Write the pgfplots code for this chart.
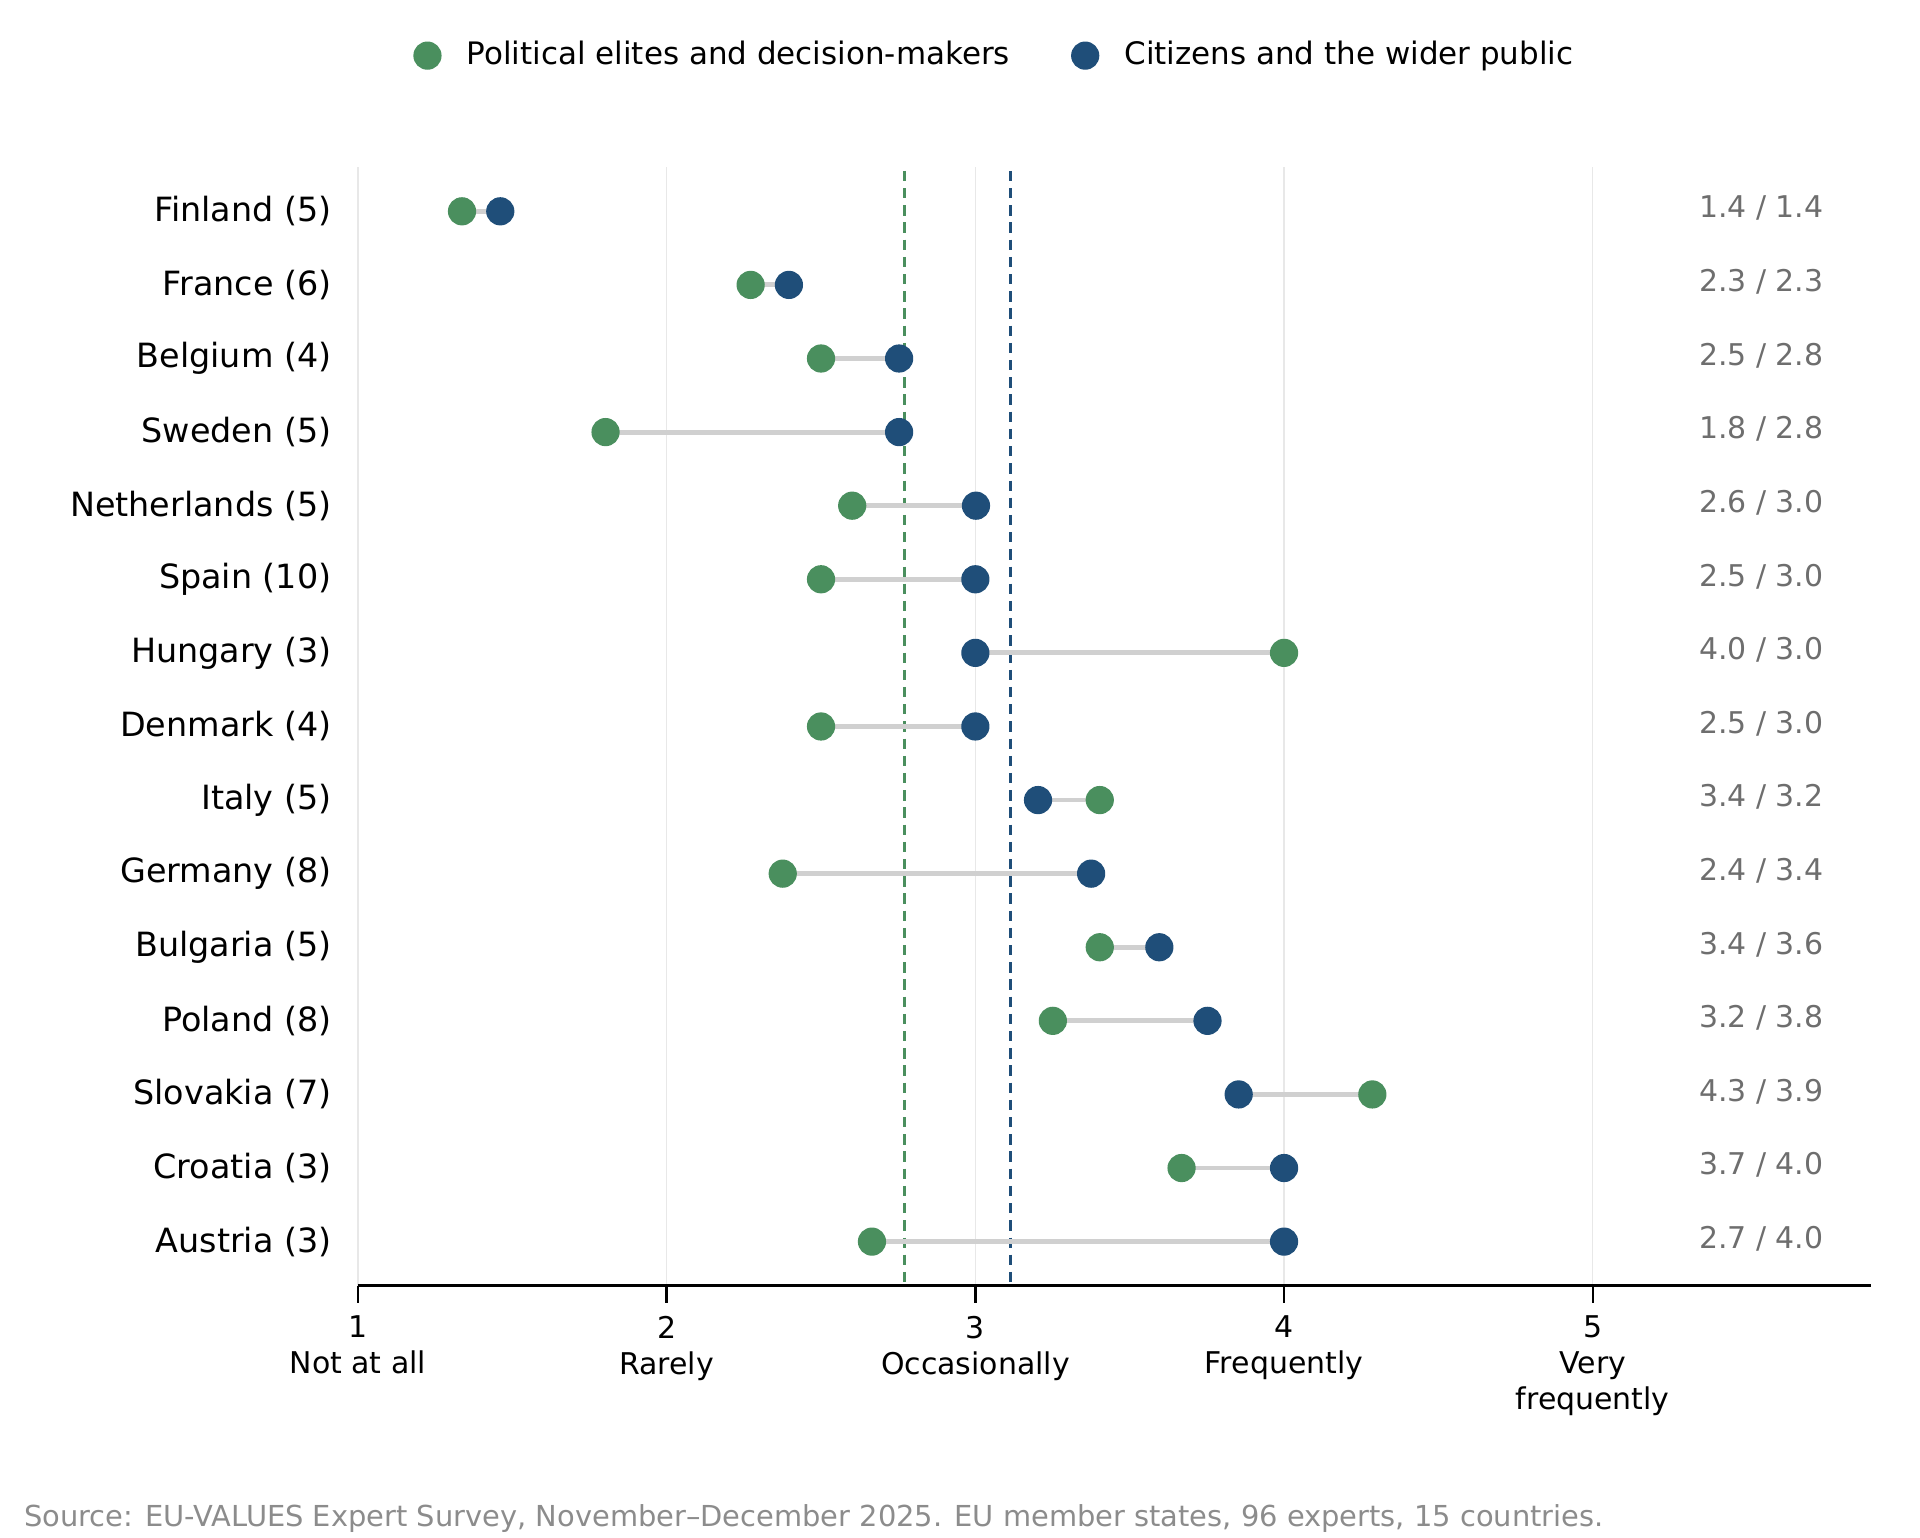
\documentclass[border=0pt]{standalone}
\usepackage{pgfplots}
\pgfplotsset{compat=1.18}
\usepackage{fontspec}
\setmainfont{DejaVu Sans}
\definecolor{eliteg}{HTML}{4A8F5E}
\definecolor{citb}{HTML}{1F4E79}
\definecolor{conn}{HTML}{D0D0D0}
\definecolor{gridc}{HTML}{E8E8E8}
\definecolor{annot}{HTML}{6E6E6E}
\definecolor{srcc}{HTML}{8C8C8C}
\begin{document}
\begin{tikzpicture}
\useasboundingbox (-104.04pt,-73.08pt) rectangle (453.96pt,373.68pt);
\begin{axis}[
  scale only axis,
  width=439.6pt, height=325.1pt,
  xmin=1, xmax=5.9,
  ymin=-0.6, ymax=14.6,
  y dir=reverse,
  axis x line*=bottom,
  axis y line*=left,
  y axis line style={draw=none},
  x axis line style={black, line width=0.9pt, -},
  xtick={1,2,3,4,5},
  xticklabels={1\\Not at all, 2\\Rarely, 3\\Occasionally, 4\\Frequently, 5\\Very\\frequently},
  xticklabel style={align=center, font=\fontsize{8.7}{10.4}\selectfont, inner sep=0pt, anchor=north, yshift=-3.6pt},
  xtick align=outside,
  major tick length=5pt,
  x tick style={black, line width=0.7pt},
  ytick={0,...,14},
  yticklabels={Finland (5), France (6), Belgium (4), Sweden (5), Netherlands (5), Spain (10), Hungary (3), Denmark (4), Italy (5), Germany (8), Bulgaria (5), Poland (8), Slovakia (7), Croatia (3), Austria (3)},
  yticklabel style={font=\fontsize{9.7}{11}\selectfont, inner sep=0pt, anchor=east, xshift=-7.5pt},
  y tick style={draw=none},
  xmajorgrids,
  grid style={gridc, line width=0.4pt},
  clip=false,
  legend style={at={(0.4226,1.0997)}, anchor=center, draw=none, fill=none,
    font=\fontsize{9}{11}\selectfont, legend columns=2,
    /tikz/every odd column/.append style={column sep=5.5pt},
    /tikz/every even column/.append style={column sep=16pt}},
  legend cell align=left,
]
% legend entries
\addlegendimage{only marks, mark=*, mark size=3.9pt, color=eliteg}
\addlegendentry{Political elites and decision-makers}
\addlegendimage{only marks, mark=*, mark size=3.9pt, color=citb}
\addlegendentry{Citizens and the wider public}
% mean lines
\addplot[eliteg, line width=0.9pt, dash pattern=on 3pt off 2pt, forget plot] coordinates {(2.769,-0.55) (2.769,14.6)};
\addplot[citb, line width=0.9pt, dash pattern=on 3pt off 2pt, forget plot] coordinates {(3.114,-0.55) (3.114,14.6)};
% connectors
\pgfplotsset{every axis plot/.append style={forget plot}}
\addplot[conn, line width=1.4pt] coordinates {(1.337,0) (1.461,0)};
\addplot[conn, line width=1.4pt] coordinates {(2.272,1) (2.396,1)};
\addplot[conn, line width=1.4pt] coordinates {(2.500,2) (2.753,2)};
\addplot[conn, line width=1.4pt] coordinates {(1.802,3) (2.753,3)};
\addplot[conn, line width=1.4pt] coordinates {(2.601,4) (3.002,4)};
\addplot[conn, line width=1.4pt] coordinates {(2.500,5) (3.000,5)};
\addplot[conn, line width=1.4pt] coordinates {(4.000,6) (3.000,6)};
\addplot[conn, line width=1.4pt] coordinates {(2.500,7) (3.000,7)};
\addplot[conn, line width=1.4pt] coordinates {(3.403,8) (3.203,8)};
\addplot[conn, line width=1.4pt] coordinates {(2.376,9) (3.375,9)};
\addplot[conn, line width=1.4pt] coordinates {(3.403,10) (3.596,10)};
\addplot[conn, line width=1.4pt] coordinates {(3.251,11) (3.752,11)};
\addplot[conn, line width=1.4pt] coordinates {(4.286,12) (3.853,12)};
\addplot[conn, line width=1.4pt] coordinates {(3.668,13) (4.000,13)};
\addplot[conn, line width=1.4pt] coordinates {(2.665,14) (4.000,14)};
% elites
\addplot[only marks, mark=*, mark size=3.9pt, color=eliteg] coordinates {
(1.337,0) (2.272,1) (2.500,2) (1.802,3) (2.601,4) (2.500,5) (4.000,6) (2.500,7)
(3.403,8) (2.376,9) (3.403,10) (3.251,11) (4.286,12) (3.668,13) (2.665,14)};
% citizens
\addplot[only marks, mark=*, mark size=3.9pt, color=citb] coordinates {
(1.461,0) (2.396,1) (2.753,2) (2.753,3) (3.002,4) (3.000,5) (3.000,6) (3.000,7)
(3.203,8) (3.375,9) (3.596,10) (3.752,11) (3.853,12) (4.000,13) (4.000,14)};
% annotations
\foreach \t [count=\i from 0] in {1.4 / 1.4, 2.3 / 2.3, 2.5 / 2.8, 1.8 / 2.8, 2.6 / 3.0, 2.5 / 3.0, 4.0 / 3.0, 2.5 / 3.0, 3.4 / 3.2, 2.4 / 3.4, 3.4 / 3.6, 3.2 / 3.8, 4.3 / 3.9, 3.7 / 4.0, 2.7 / 4.0} {
  \edef\temp{\noexpand\node[anchor=east, inner sep=0pt, text=annot, font=\noexpand\fontsize{8.7}{10}\noexpand\selectfont] at (axis cs:5.75,\i-0.04) {\t};}
  \temp
}
\node[anchor=west, inner sep=0pt, text=srcc, font=\fontsize{8.4}{10}\selectfont] at (rel axis cs:-0.2211,-0.2082) {Source: EU-VALUES Expert Survey, November–December 2025. EU member states, 96 experts, 15 countries.};
\end{axis}
\end{tikzpicture}
\end{document}
